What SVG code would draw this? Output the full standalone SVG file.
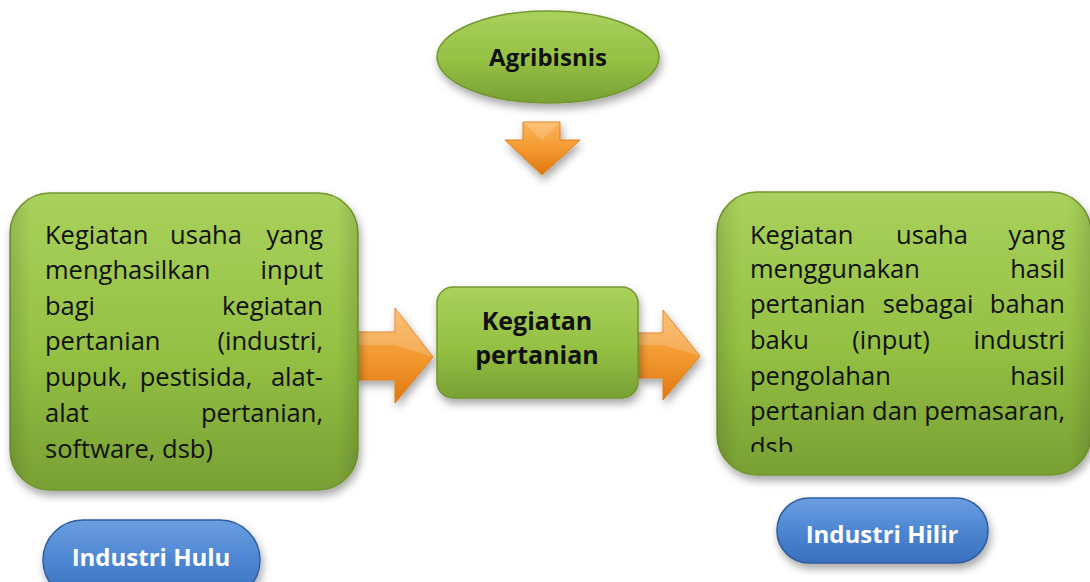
<svg xmlns="http://www.w3.org/2000/svg" width="1090" height="582" viewBox="0 0 1090 582">
<defs>
<linearGradient id="green" x1="0" y1="0" x2="0" y2="1">
<stop offset="0" stop-color="#a9d15c"/>
<stop offset="0.55" stop-color="#94c043"/>
<stop offset="1" stop-color="#78a034"/>
</linearGradient>
<linearGradient id="rim" x1="0" y1="0" x2="1" y2="0">
<stop offset="0" stop-color="#000" stop-opacity="0.12"/>
<stop offset="0.06" stop-color="#000" stop-opacity="0"/>
<stop offset="0.94" stop-color="#000" stop-opacity="0"/>
<stop offset="1" stop-color="#000" stop-opacity="0.12"/>
</linearGradient>
<linearGradient id="orange" x1="0" y1="0" x2="0" y2="1">
<stop offset="0" stop-color="#fbb45a"/>
<stop offset="0.5" stop-color="#f39a30"/>
<stop offset="1" stop-color="#e07812"/>
</linearGradient>
<linearGradient id="blue" x1="0" y1="0" x2="0" y2="1">
<stop offset="0" stop-color="#6a9ee0"/>
<stop offset="0.5" stop-color="#4d86d2"/>
<stop offset="1" stop-color="#3a6fbd"/>
</linearGradient>
<filter id="sh" x="-10%" y="-10%" width="125%" height="130%">
<feDropShadow dx="2" dy="5" stdDeviation="4" flood-color="#000" flood-opacity="0.35"/>
</filter>
<clipPath id="clipR"><rect x="717" y="192" width="374" height="260"/></clipPath>
</defs>
<style>
.g{fill:url(#green);stroke:#73962f;stroke-width:1.5;filter:url(#sh)}
.r{fill:url(#rim)}
.b{fill:url(#blue);stroke:#2e5d9e;stroke-width:1.5;filter:url(#sh)}
.o{fill:url(#orange);stroke:#e27d15;stroke-width:1;filter:url(#sh)}
.hl{fill:#ffffff;opacity:0.18}
.t{font-family:"Open Sans","Noto Sans",sans-serif;font-size:25.5px;fill:#111}
.e{text-anchor:end}
.m{text-anchor:middle}
.bt{font-family:"Open Sans","Noto Sans",sans-serif;font-weight:bold;fill:#111;text-anchor:middle}
.wt{font-family:"Open Sans","Noto Sans",sans-serif;font-weight:bold;fill:#fff;text-anchor:middle;font-size:24px}
</style>

<g id="connectors">
<g id="arrow-down">
<path class="o" d="M523,122 H560 V140 H580 L542,175 L505,140 H523 Z"/>
<path class="hl" d="M523,122 H560 L542,140 Z"/>
</g>
<g id="arrow-left">
<path class="o" d="M356,332 H395 V308 L433,357 L395,403 V380 H356 Z"/>
<path class="hl" d="M356,332 H395 V308 L433,357 L395,345 H356 Z"/>
</g>
<g id="arrow-right">
<path class="o" d="M638,333 H663 V310 L700,356 L663,400 V378 H638 Z"/>
<path class="hl" d="M638,333 H663 V310 L700,356 L663,345 H638 Z"/>
</g>
</g>

<g id="agribisnis">
<ellipse class="g" cx="548" cy="57" rx="111" ry="46"/>
<text class="bt" x="548" y="66" font-size="24">Agribisnis</text>
</g>

<g id="hulu-box">
<rect class="g" x="10" y="193" width="348" height="297" rx="40"/>
<rect class="r" x="10" y="193" width="348" height="297" rx="40"/>
<text class="t" x="45" y="244">Kegiatan</text><text class="t m" x="206" y="244">usaha</text><text class="t e" x="323" y="244">yang</text>
<text class="t" x="45" y="279">menghasilkan</text><text class="t e" x="323" y="279">input</text>
<text class="t" x="45" y="315">bagi</text><text class="t e" x="323" y="315">kegiatan</text>
<text class="t" x="45" y="350">pertanian</text><text class="t e" x="323" y="350">(industri,</text>
<text class="t" x="45" y="386">pupuk,</text><text class="t m" x="196" y="386">pestisida,</text><text class="t e" x="323" y="386">alat-</text>
<text class="t" x="45" y="422">alat</text><text class="t e" x="323" y="422">pertanian,</text>
<text class="t" x="45" y="458">software, dsb)</text>
</g>

<g id="kegiatan-pertanian">
<rect class="g" x="437" y="287" width="201" height="111" rx="16"/>
<text class="bt" x="537" y="330" font-size="25">Kegiatan</text>
<text class="bt" x="537" y="364" font-size="25">pertanian</text>
</g>

<g id="hilir-box">
<rect class="g" x="717" y="192" width="374" height="283" rx="40"/>
<rect class="r" x="717" y="192" width="374" height="283" rx="40"/>
<g clip-path="url(#clipR)">
<text class="t" x="750" y="244">Kegiatan</text><text class="t m" x="932" y="244">usaha</text><text class="t e" x="1065" y="244">yang</text>
<text class="t" x="750" y="278">menggunakan</text><text class="t e" x="1065" y="278">hasil</text>
<text class="t" x="750" y="313">pertanian</text><text class="t m" x="928" y="313">sebagai</text><text class="t e" x="1065" y="313">bahan</text>
<text class="t" x="750" y="349">baku</text><text class="t m" x="891" y="349">(input)</text><text class="t e" x="1065" y="349">industri</text>
<text class="t" x="750" y="385">pengolahan</text><text class="t e" x="1065" y="385">hasil</text>
<text class="t" x="750" y="420">pertanian dan pemasaran,</text>
<text class="t" x="750" y="456">dsb</text>
</g>
</g>

<g id="industri-hulu">
<rect class="b" x="43" y="520" width="217" height="80" rx="40"/>
<text class="wt" x="151" y="566">Industri Hulu</text>
</g>

<g id="industri-hilir">
<rect class="b" x="777" y="498" width="211" height="65" rx="32"/>
<text class="wt" x="882" y="543">Industri Hilir</text>
</g>
</svg>
